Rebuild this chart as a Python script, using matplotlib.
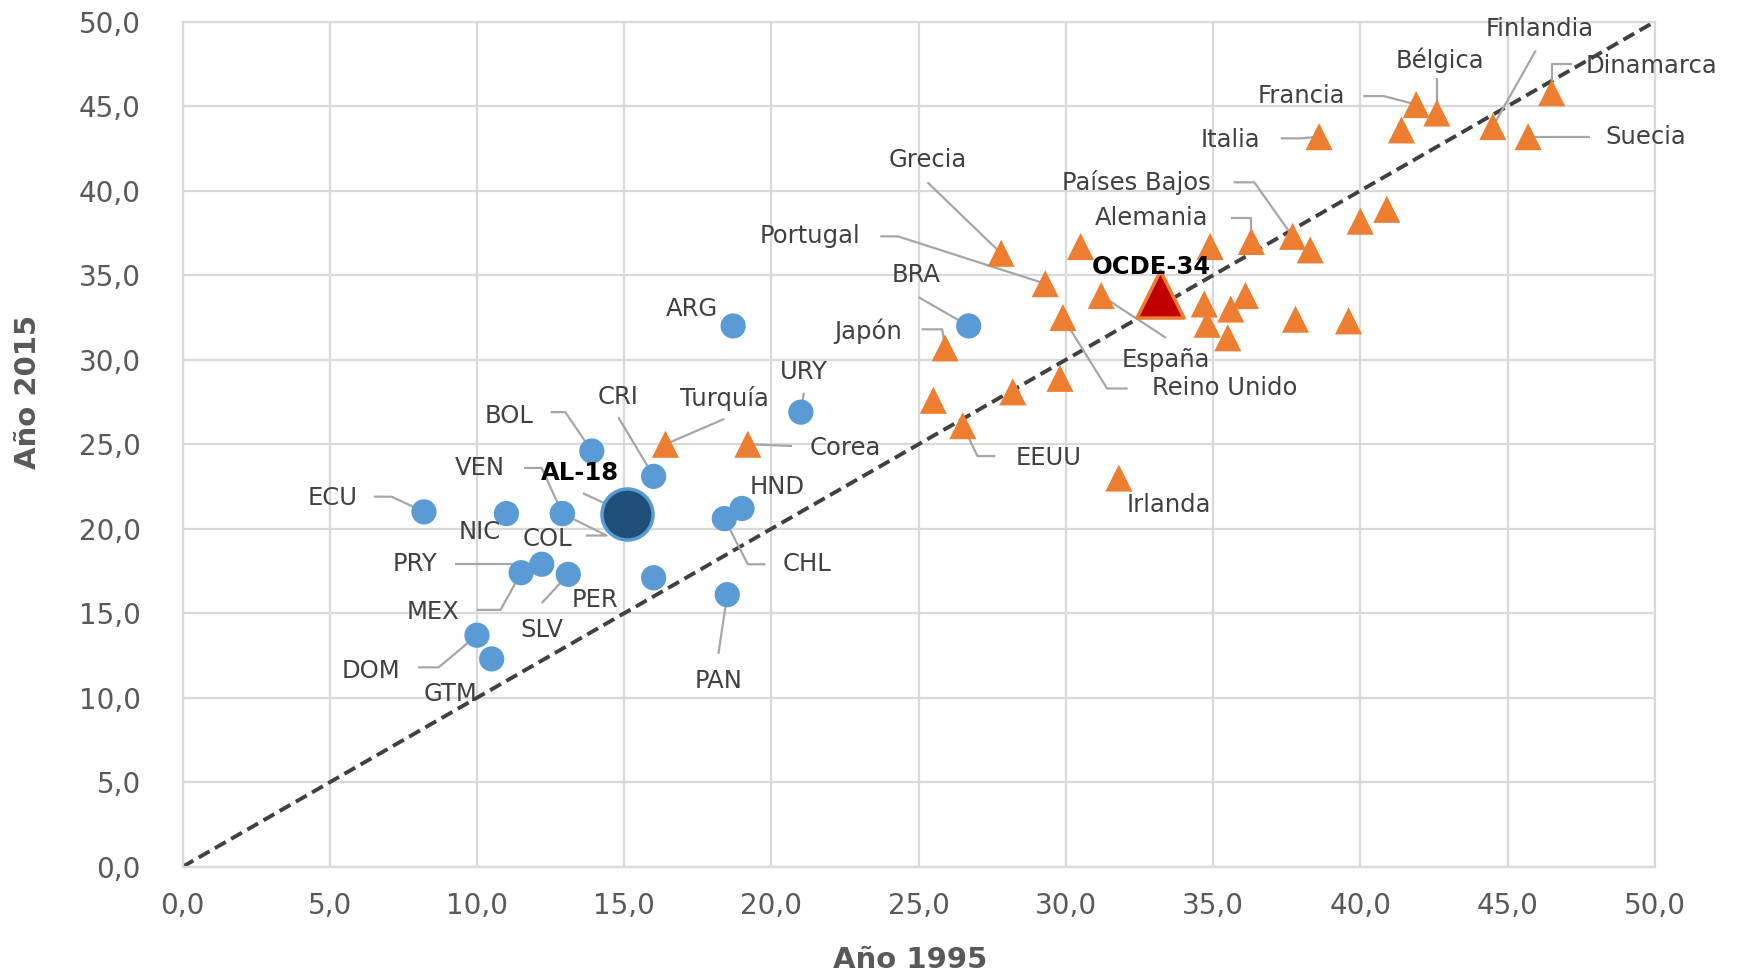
import matplotlib
matplotlib.use("Agg")
import matplotlib.pyplot as plt
from matplotlib.ticker import FuncFormatter, MultipleLocator

# ---------------- data ----------------
latam_names = ["ARG", "BRA", "URY", "BOL", "CRI", "ECU", "NIC", "VEN", "HND", "CHL",
               "PRY", "MEX", "SLV", "PER", "PAN", "DOM", "GTM", "COL"]
latam_1995 = [18.7, 26.7, 21.0, 13.9, 16.0, 8.2, 11.0, 12.9, 19.0, 18.4,
              12.2, 11.5, 13.1, 16.0, 18.5, 10.0, 10.5, 12.9]
latam_2015 = [32.0, 32.0, 26.9, 24.6, 23.1, 21.0, 20.9, 20.9, 21.2, 20.6,
              17.9, 17.4, 17.3, 17.1, 16.1, 13.7, 12.3, 20.9]

al18_name = "AL-18"
al18_1995 = 15.1
al18_2015 = 20.9

oecd_names = ["Turquía", "Corea", "Japón", "Grecia", "Portugal", "Reino Unido", "España",
              "Alemania", "Países Bajos", "Italia", "Francia", "Bélgica", "Finlandia",
              "Suecia", "Dinamarca", "EEUU", "Irlanda",
              "", "", "", "", "", "", "", "", "", "", "", "", "", "", "", ""]
oecd_1995 = [16.4, 19.2, 25.9, 27.8, 29.3, 29.9, 31.2,
             36.3, 37.7, 38.6, 41.9, 42.6, 44.5,
             45.7, 46.5, 26.5, 31.8,
             30.5, 34.9, 34.7, 34.8, 35.6, 36.1, 35.5, 37.8, 39.6, 38.3, 40.0, 40.9,
             41.4, 25.5, 28.2, 29.8]
oecd_2015 = [25.0, 25.0, 30.7, 36.3, 34.5, 32.5, 33.8,
             37.0, 37.3, 43.2, 45.1, 44.6, 43.8,
             43.2, 45.8, 26.1, 23.0,
             36.7, 36.7, 33.3, 32.1, 33.0, 33.8, 31.3, 32.4, 32.3, 36.5, 38.2, 38.9,
             43.6, 27.6, 28.1, 28.9]

ocde_name = "OCDE-34"
ocde_1995 = 33.2
ocde_2015 = 33.9

x_label = "Año 1995"
y_label = "Año 2015"

# ---------------- label layout (text position, leader waypoints) ----------------
label_layout = {
    "ARG": ((17.3, 33.0), []),
    "BRA": ((24.9, 35.0), [(25.0, 33.7)]),
    "URY": ((21.1, 29.3), [(21.1, 28.05)]),
    "BOL": ((11.1, 26.7), [(12.5, 26.9), (13.0, 26.9)]),
    "CRI": ((14.8, 27.8), [(14.8, 26.6)]),
    "ECU": ((5.1, 21.8), [(6.5, 21.9), (7.1, 21.9)]),
    "NIC": ((10.1, 19.8), []),
    "VEN": ((10.1, 23.6), [(11.6, 23.6), (12.2, 23.6)]),
    "HND": ((20.2, 22.5), []),
    "CHL": ((21.2, 17.9), [(19.8, 17.9), (19.2, 17.9)]),
    "PRY": ((7.9, 17.9), [(9.25, 17.9)]),
    "MEX": ((8.5, 15.1), [(10.0, 15.2), (10.8, 15.2)]),
    "SLV": ((12.2, 14.0), [(12.2, 15.6)]),
    "PER": ((14.0, 15.8), []),
    "PAN": ((18.2, 11.0), [(18.2, 12.6)]),
    "DOM": ((6.4, 11.6), [(8.0, 11.8), (8.7, 11.8)]),
    "GTM": ((9.1, 10.25), []),
    "COL": ((12.4, 19.4), [(13.7, 19.6), (14.4, 19.6)]),
    "AL-18": ((13.5, 23.3), [(13.6, 22.1)]),
    "Turquía": ((18.4, 27.7), [(18.4, 26.5)]),
    "Corea": ((22.5, 24.8), [(20.7, 24.9)]),
    "Japón": ((23.3, 31.7), [(25.1, 31.8), (25.8, 31.8)]),
    "Grecia": ((25.3, 41.8), [(25.3, 40.5)]),
    "Portugal": ((21.3, 37.3), [(23.7, 37.3), (24.3, 37.3)]),
    "Reino Unido": ((35.4, 28.3), [(32.1, 28.3), (31.4, 28.3)]),
    "España": ((33.4, 30.0), [(33.4, 31.3)]),
    "Alemania": ((32.9, 38.4), [(35.6, 38.4), (36.3, 38.4)]),
    "Países Bajos": ((32.4, 40.5), [(35.7, 40.5), (36.4, 40.5)]),
    "Italia": ((35.6, 43.0), [(37.3, 43.1), (38.0, 43.1)]),
    "Francia": ((38.0, 45.6), [(40.1, 45.6), (40.8, 45.6)]),
    "Bélgica": ((42.7, 47.7), [(42.6, 46.7)]),
    "Finlandia": ((46.1, 49.6), [(45.96, 48.3)]),
    "Suecia": ((49.7, 43.2), [(47.8, 43.2)]),
    "Dinamarca": ((49.9, 47.4), [(47.2, 47.5), (46.5, 47.5)]),
    "EEUU": ((29.4, 24.2), [(27.6, 24.3), (27.0, 24.3)]),
    "Irlanda": ((33.5, 21.4), []),
    "OCDE-34": ((32.9, 35.5), []),
}

# ---------------- styling ----------------
BLUE = "#5B9BD5"
ORANGE = "#ED7D31"
DARKBLUE = "#1F4E79"
DARKRED = "#C00000"
GRID = "#D9D9D9"
TICK = "#595959"
LABEL = "#404040"
LEADER = "#A6A6A6"

plt.rcParams["font.family"] = ["DejaVu Sans"]

fig = plt.figure(figsize=(17.4, 9.75), dpi=100)
ax = fig.add_axes([0.1049, 0.111, 0.8461, 0.8667])
ax.set_xlim(0, 50)
ax.set_ylim(0, 50)

ax.xaxis.set_major_locator(MultipleLocator(5))
ax.yaxis.set_major_locator(MultipleLocator(5))
fmt = FuncFormatter(lambda v, p: f"{v:.1f}".replace(".", ","))
ax.xaxis.set_major_formatter(fmt)
ax.yaxis.set_major_formatter(fmt)
ax.tick_params(length=0, labelsize=20, labelcolor=TICK)
ax.tick_params(axis="y", pad=30)
ax.tick_params(axis="x", pad=18)
ax.grid(True, color=GRID, lw=1.6, zorder=0)
ax.set_axisbelow(True)
for s in ax.spines.values():
    s.set_color(GRID)
    s.set_linewidth(1.6)

# diagonal
ax.plot([0, 50], [0, 50], ls=(0, (3.2, 1.6)), color="#404040", lw=2.8, zorder=2)

# leaders
def leader(name, px, py):
    if name not in label_layout:
        return
    _, pts = label_layout[name]
    if not pts:
        return
    xs = [p[0] for p in pts] + [px]
    ys = [p[1] for p in pts] + [py]
    ax.plot(xs, ys, color=LEADER, lw=1.6, zorder=3, solid_capstyle="butt")

for n, x, y in zip(latam_names, latam_1995, latam_2015):
    leader(n, x, y)
for n, x, y in zip(oecd_names, oecd_1995, oecd_2015):
    leader(n, x, y)
leader(al18_name, al18_1995, al18_2015)

# points
ax.scatter(latam_1995, latam_2015, s=330, marker="o", color=BLUE, edgecolor="none", zorder=4)
ax.scatter(oecd_1995, oecd_2015, s=380, marker="^", color=ORANGE, edgecolor="none", zorder=4)
ax.scatter([al18_1995], [al18_2015], s=1350, marker="o", color=DARKBLUE,
           edgecolor=BLUE, linewidth=2.5, zorder=5)
ax.scatter([ocde_1995], [ocde_2015], s=1150, marker="^", color=DARKRED,
           edgecolor=ORANGE, linewidth=2.5, zorder=5)

# text labels
def put(name, bold=False):
    if not name or name not in label_layout:
        return
    (tx, ty), _ = label_layout[name]
    ax.text(tx, ty, name, ha="center", va="center", fontsize=17.5,
            color="black" if bold else LABEL,
            fontweight="bold" if bold else "normal", zorder=6, clip_on=False)

for n in latam_names:
    put(n)
for n in oecd_names:
    put(n)
put(al18_name, bold=True)
put(ocde_name, bold=True)

fig.text(910 / 1740, 1 - 960 / 975, x_label, fontsize=21, fontweight="bold",
         color=TICK, ha="center", va="center")
fig.text(28 / 1740, 1 - 392 / 975, y_label, fontsize=21, fontweight="bold",
         color=TICK, ha="center", va="center", rotation=90)

fig.savefig("out.png", dpi=100)
